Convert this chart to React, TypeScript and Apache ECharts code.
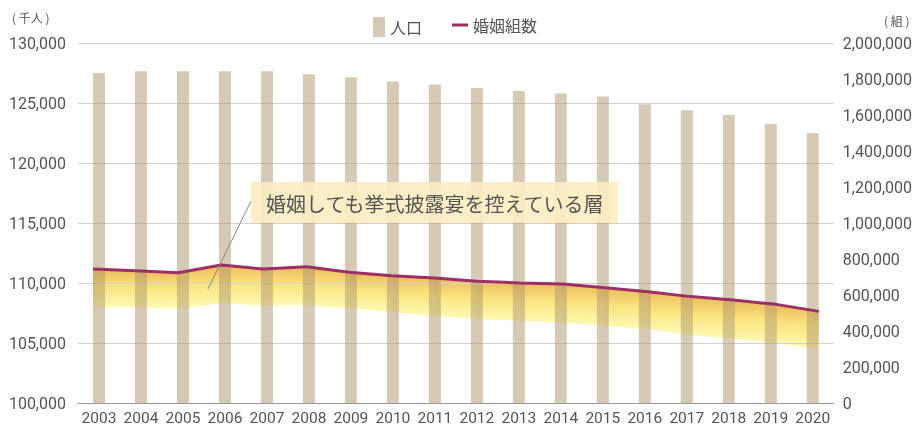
import React, { useEffect, useRef } from "react";
import * as echarts from "echarts";

const years = ["2003", "2004", "2005", "2006", "2007", "2008", "2009", "2010", "2011", "2012", "2013", "2014", "2015", "2016", "2017", "2018", "2019", "2020"];
// 人口 (千人)
const population = [127500, 127650, 127650, 127650, 127650, 127400, 127150, 126800, 126550, 126250, 126000, 125800, 125550, 124900, 124400, 124000, 123250, 122500];
// 婚姻組数 (組)
const marriages = [744000, 735000, 724000, 767000, 744000, 757000, 726000, 707000, 695000, 676000, 667000, 661000, 640000, 618000, 591000, 572000, 548000, 509000];
// lower edge of the shaded band (組)
const bandLower = [535000, 531000, 522000, 556000, 539000, 544000, 525000, 504000, 483000, 467000, 456000, 446000, 428000, 411000, 378000, 355000, 332000, 300000];

const leftTicks = { min: 100000, max: 130000, interval: 5000 };
const rightTicks = { min: 0, max: 2000000, interval: 200000 };

const NUM_FONT = "'Roboto', sans-serif";
const JP_FONT = "'Noto Sans CJK JP', sans-serif";

export default function App() {
  const ref = useRef<HTMLDivElement>(null);
  useEffect(() => {
    if (!ref.current) return;
    const chart = echarts.init(ref.current, undefined, { renderer: "svg" });
    const fmt = (v: number) => v.toLocaleString("en-US");
    const segments = marriages.slice(0, -1).map((v, i) => [i, v, bandLower[i], i + 1, marriages[i + 1], bandLower[i + 1]]);
    const lastSeg = segments.length - 1;
    chart.setOption({
      animation: false,
      grid: { left: 78, right: 81, top: 43, bottom: 23, containLabel: false },
      legend: [
        {
          data: [{ name: "人口", icon: "rect" }],
          left: 368,
          top: 12,
          itemWidth: 12,
          itemHeight: 20,
          textStyle: { fontSize: 16, color: "#555", fontFamily: JP_FONT },
        },
        {
          data: [{ name: "婚姻組数", icon: "rect" }],
          left: 447,
          top: 12,
          itemWidth: 16,
          itemHeight: 3,
          textStyle: { fontSize: 16, color: "#555", fontFamily: JP_FONT, padding: [2, 0, 0, 0] },
        },
      ],
      xAxis: [
        {
          type: "category",
          data: years,
          boundaryGap: true,
          axisLine: { lineStyle: { color: "#999", width: 1 } },
          axisTick: { inside: true, length: 6, lineStyle: { color: "#999" } },
          axisLabel: { color: "#555", fontSize: 15.5, fontFamily: NUM_FONT, margin: 7, interval: 0 },
        },
        {
          type: "value",
          min: -0.3512,
          max: 17.3512,
          show: false,
        },
      ],
      yAxis: [
        {
          type: "value",
          ...leftTicks,
          position: "left",
          axisLine: { show: false },
          axisTick: { show: false },
          splitLine: { lineStyle: { color: "#d2d2d2", width: 1 } },
          axisLabel: { color: "#555", fontSize: 16, fontFamily: NUM_FONT, margin: 12, formatter: fmt },
        },
        {
          type: "value",
          ...rightTicks,
          position: "right",
          axisLine: { show: false },
          axisTick: { show: false },
          splitLine: { show: false },
          axisLabel: { color: "#555", fontSize: 16, fontFamily: NUM_FONT, margin: 9, formatter: fmt },
        },
      ],
      series: [
        {
          name: "人口",
          type: "bar",
          xAxisIndex: 0,
          yAxisIndex: 0,
          data: population,
          barWidth: 12,
          itemStyle: { color: "rgba(176,150,108,0.5)" },
          z: 2,
        },
        {
          type: "custom",
          xAxisIndex: 1,
          yAxisIndex: 1,
          z: -1,
          silent: true,
          data: segments,
          encode: { x: 0, y: 1 },
          renderItem: (params: any, api: any) => {
            const x0 = api.value(0), u0 = api.value(1), l0 = api.value(2);
            const x1 = api.value(3), u1 = api.value(4), l1 = api.value(5);
            const ext = params.dataIndex === lastSeg ? 0 : 0.7;
            const p0 = api.coord([x0, u0]);
            const p1 = api.coord([x1, u1]);
            const p2 = api.coord([x1, l1]);
            const p3 = api.coord([x0, l0]);
            return {
              type: "polygon",
              shape: { points: [p0, [p1[0] + ext, p1[1]], [p2[0] + ext, p2[1]], p3] },
              style: {
                fill: new echarts.graphic.LinearGradient(0, 0, 0, 1, [
                  { offset: 0, color: "#eeb95c" },
                  { offset: 0.45, color: "#fae47e" },
                  { offset: 1, color: "#fefbb6" },
                ]),
              },
            };
          },
        },
        {
          name: "婚姻組数",
          type: "line",
          xAxisIndex: 1,
          yAxisIndex: 1,
          data: marriages.map((v, i) => [i, v]),
          symbol: "none",
          showSymbol: false,
          lineStyle: { color: "#9e2f63", width: 3 },
          itemStyle: { color: "#9e2f63" },
          z: 5,
        },
      ],
      graphic: [
        {
          type: "text",
          left: 12,
          top: 11,
          style: { text: "( 千人 )", fontSize: 12, fill: "#555", fontFamily: JP_FONT },
        },
        {
          type: "text",
          left: 884,
          top: 14,
          style: { text: "( 組 )", fontSize: 12, fill: "#555", fontFamily: JP_FONT },
        },
        {
          type: "line",
          z: 20,
          shape: { x1: 251, y1: 201, x2: 208, y2: 289 },
          style: { stroke: "#888", lineWidth: 1 },
        },
        {
          type: "rect",
          z: 20,
          shape: { x: 251, y: 182, width: 367, height: 41 },
          style: { fill: "rgba(252,238,194,0.92)" },
        },
        {
          type: "text",
          z: 21,
          x: 266,
          y: 203,
          style: {
            text: "婚姻しても挙式披露宴を控えている層",
            fontSize: 20,
            fill: "#555",
            fontFamily: JP_FONT,
            verticalAlign: "middle",
          },
        },
      ],
    });
    return () => chart.dispose();
  }, []);
  return <div ref={ref} style={{ position: "fixed", left: 0, top: 0, width: 915, height: 426 }} />;
}
